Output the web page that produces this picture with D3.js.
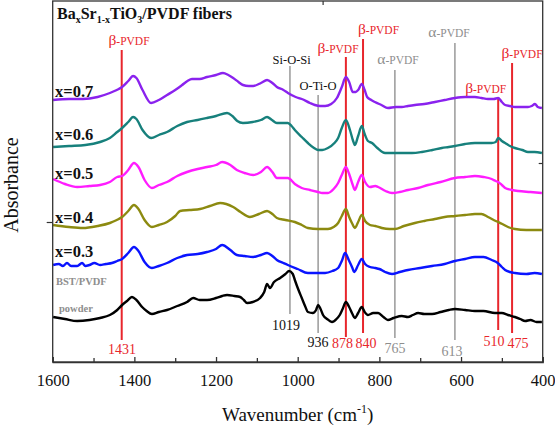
<!DOCTYPE html>
<html><head><meta charset="utf-8">
<script src="https://cdn.jsdelivr.net/npm/d3@7"></script>
<style>body{margin:0;background:#fff}svg{display:block}</style>
</head><body><div id="chart"></div>
<script>
// ---------- DATA ----------
const seriesNames = ["x=0.7", "x=0.6", "x=0.5", "x=0.4", "x=0.3", "powder"];
const spec07 = [[1599,262],[1560,263],[1526,263],[1490,265],[1460,269],[1443,272],[1430,275],[1415,281],[1403,286],[1395,284],[1380,272],[1359,259],[1340,262],[1320,267],[1300,272],[1283,277],[1270,281],[1259,283],[1240,283],[1222,285],[1200,287],[1183,289],[1170,287],[1158,284],[1145,280],[1134,277],[1120,276],[1109,276],[1090,279],[1075,282],[1062,279],[1051,275],[1035,272],[1024,269],[1005,265],[990,263],[970,259],[958,257],[945,256],[933,256],[918,258],[904,264],[892,275],[882,285],[874,280],[865,270],[858,270],[852,272],[843,278],[836,272],[830,265],[820,262],[811,260],[795,257],[779,254],[760,255],[745,255],[730,256],[713,257],[690,258],[664,260],[640,262],[615,264],[590,265],[566,265],[550,264],[534,263],[520,263],[509,264],[500,260],[492,257],[480,256],[468,255],[450,255],[436,255],[427,256],[419,258],[412,255],[402,254]];
const spec06 = [[1599,215],[1560,216],[1520,217],[1484,220],[1460,224],[1442,230],[1430,234],[1415,240],[1403,245],[1395,243],[1380,232],[1359,224],[1340,227],[1320,230],[1295,236],[1271,240],[1245,242],[1222,244],[1200,246],[1173,249],[1160,246],[1148,241],[1134,239],[1110,240],[1090,242],[1075,245],[1063,242],[1051,239],[1035,239],[1024,239],[1015,236],[1007,232],[990,225],[975,219],[960,214],[950,212],[940,212],[926,214],[910,219],[901,224],[892,234],[882,242],[872,232],[865,222],[860,217],[852,226],[843,236],[836,228],[828,221],[818,219],[805,214],[786,209],[765,209],[745,209],[720,209],[696,210],[670,212],[647,214],[630,215],[615,216],[590,218],[566,219],[545,219],[525,219],[515,220],[509,224],[500,221],[492,219],[480,216],[468,214],[450,212],[436,210],[420,210],[402,209]];
const spec05 = [[1599,183],[1570,178],[1540,175],[1510,176],[1484,177],[1460,180],[1442,185],[1430,186],[1415,192],[1401,199],[1390,195],[1375,182],[1357,174],[1340,177],[1320,180],[1295,186],[1271,190],[1245,193],[1222,195],[1200,197],[1185,200],[1165,197],[1149,192],[1130,189],[1109,187],[1090,190],[1075,195],[1062,190],[1051,184],[1035,184],[1024,184],[1007,178],[990,174],[970,172],[950,170],[940,169],[926,169],[912,173],[901,179],[892,187],[882,195],[874,188],[866,178],[860,172],[852,180],[843,187],[835,180],[823,175],[810,176],[803,175],[785,171],[769,169],[750,170],[730,172],[705,174],[681,177],[650,180],[615,184],[590,185],[566,186],[545,185],[525,183],[515,181],[509,180],[500,177],[492,174],[475,172],[460,171],[430,170],[402,169]];
const spec04 = [[1599,137],[1560,135],[1526,134],[1490,136],[1460,139],[1443,142],[1430,145],[1415,151],[1401,157],[1390,153],[1375,142],[1357,135],[1340,137],[1320,140],[1300,146],[1288,151],[1265,152],[1239,153],[1215,156],[1190,159],[1175,158],[1158,155],[1140,150],[1117,145],[1095,148],[1075,151],[1062,148],[1051,144],[1030,142],[1007,140],[990,137],[975,134],[950,133],[926,133],[912,135],[901,139],[892,146],[882,153],[874,145],[866,138],[860,134],[852,140],[843,147],[835,141],[823,137],[810,136],[794,134],[775,133],[762,133],[740,136],[713,139],[690,141],[664,143],[640,145],[615,146],[590,147],[566,148],[550,148],[534,145],[515,141],[499,138],[485,135],[468,133],[440,132],[402,132]];
const spec03 = [[1599,97],[1585,98],[1575,96],[1565,99],[1555,96],[1540,96],[1528,99],[1520,96],[1510,97],[1498,99],[1484,97],[1470,98],[1455,99],[1442,101],[1430,103],[1415,109],[1401,115],[1390,111],[1375,100],[1357,94],[1340,96],[1320,99],[1295,104],[1271,107],[1245,108],[1222,110],[1200,113],[1185,117],[1165,112],[1149,107],[1130,106],[1109,105],[1090,107],[1075,109],[1062,106],[1051,102],[1035,99],[1024,97],[1000,93],[975,89],[950,89],[933,89],[915,91],[901,94],[892,101],[884,109],[875,102],[866,94],[862,90],[852,97],[843,103],[835,98],[823,95],[810,94],[800,93],[786,90],[769,88],[750,90],[730,92],[700,94],[671,96],[640,98],[615,101],[590,103],[566,105],[545,105],[525,102],[510,99],[500,95],[492,92],[480,90],[468,89],[440,88],[420,89],[402,88]];
const specPowder = [[1599,45],[1570,43],[1540,41],[1510,42],[1484,44],[1460,47],[1442,52],[1430,57],[1418,61],[1406,65],[1395,62],[1381,55],[1370,51],[1357,48],[1340,50],[1320,52],[1295,56],[1271,60],[1256,64],[1240,62],[1222,62],[1200,64],[1185,66],[1173,67],[1155,66],[1141,65],[1132,62],[1124,59],[1110,60],[1092,64],[1082,70],[1075,78],[1068,74],[1058,80],[1043,84],[1030,88],[1021,91],[1012,88],[1007,82],[998,72],[990,64],[982,56],[975,50],[963,49],[955,52],[950,57],[944,53],[938,47],[928,43],[916,40],[905,43],[897,47],[890,53],[882,60],[874,55],[866,48],[860,44],[852,49],[843,55],[836,50],[828,47],[815,49],[803,49],[790,45],[779,42],[765,44],[745,46],[730,45],[718,47],[705,49],[690,48],[671,48],[650,50],[630,52],[615,53],[590,52],[566,51],[545,51],[517,49],[500,49],[485,47],[468,45],[455,43],[443,41],[430,42],[415,40],[402,40]];

const peakWavenumbers   = [1431, 1019, 950, 882, 840, 762, 615, 509, 475];
const peakNumberLabels  = ["1431", "1019", "936", "878", "840", "765", "613", "510", "475"];
const peakAssignments   = ["β-PVDF", "Si-O-Si", "O-Ti-O", "β-PVDF", "β-PVDF", "α-PVDF", "α-PVDF", "β-PVDF", "β-PVDF"];
const peakKinds         = ["beta", "other", "other", "beta", "beta", "alpha", "alpha", "beta", "beta"];
const peakLineTopAbs    = [312, 296, 267, 305, 323, 292, 319, 265, 299];
const peakLineBottomAbs = [22, 48, 29, 25, 29, 24, 22, 32, 29];

const xTicks = [1600, 1400, 1200, 1000, 800, 600, 400];
const xMinorTicks = [1500, 1300, 1100, 900, 700, 500];

// ---------- LAYOUT / STYLE ----------
const W = 555, H = 426;
const L = 52.7, R = 542.7, T = 1, B = 362;
const seriesColors = ["#8a22ee", "#17807c", "#ff1cff", "#8c8a10", "#0a14ff", "#000000"];
const RED = "#e8262c", GRAY = "#999999", GRAYTXT = "#8e8e8e";
const SERIF = "Liberation Serif, DejaVu Serif, serif";
const seriesLabelPos = [[55, 97], [55, 140], [55, 179], [55, 223], [55, 257]];
const topLabelPos = [[129, 45], [291.7, 64], [318, 90], [338, 53], [378.5, 34], [398, 64], [449, 37], [485.7, 92.5], [522, 58]];
const numLabelPos = [[122, 354], [286, 330], [318, 347], [342.5, 348], [366, 348], [395, 353], [452, 356], [494, 346], [518, 348]];

const svg = d3.select("#chart").append("svg").attr("width", W).attr("height", H)
  .attr("font-family", SERIF);
svg.append("rect").attr("width", W).attr("height", H).attr("fill", "#fff");

const x = d3.scaleLinear().domain([1600, 400]).range([L, R]);
const y = d3.scaleLinear().domain([0, 361]).range([B, T]);

// annotation lines
const kindColor = k => k === "beta" ? RED : GRAY;
peakWavenumbers.forEach((w, i) => {
  svg.append("line").attr("x1", x(w)).attr("x2", x(w))
    .attr("y1", y(peakLineTopAbs[i])).attr("y2", y(peakLineBottomAbs[i]))
    .attr("stroke", kindColor(peakKinds[i]))
    .attr("stroke-width", peakKinds[i] === "beta" ? 2 : 1.5);
});

// spectra
const allSpecs = [spec07, spec06, spec05, spec04, spec03, specPowder];
const line = d3.line().x(d => x(d[0])).y(d => y(d[1])).curve(d3.curveMonotoneX);
allSpecs.forEach((s, i) => {
  svg.append("path").datum(s).attr("d", line).attr("fill", "none")
    .attr("stroke", seriesColors[i]).attr("stroke-width", 2.4)
    .attr("stroke-linejoin", "round");
});

// top labels
peakAssignments.forEach((lab, i) => {
  const [px, py] = topLabelPos[i];
  const t = svg.append("text").attr("x", px).attr("y", py).attr("text-anchor", "middle");
  if (peakKinds[i] === "other") {
    t.attr("font-size", 12.5).attr("fill", "#111").text(lab);
  } else {
    const c = peakKinds[i] === "beta" ? RED : GRAYTXT;
    t.attr("fill", c);
    t.append("tspan").attr("font-size", 15.5).text(lab.slice(0, 1));
    t.append("tspan").attr("font-size", 11.5).text(lab.slice(1));
  }
});

// bottom number labels
peakNumberLabels.forEach((lab, i) => {
  const [px, py] = numLabelPos[i];
  const c = peakKinds[i] === "beta" ? RED : (peakKinds[i] === "alpha" ? GRAYTXT : "#111");
  svg.append("text").attr("x", px).attr("y", py).attr("text-anchor", "middle")
    .attr("font-size", 14).attr("fill", c).text(lab);
});

// frame
svg.append("rect").attr("x", L).attr("y", T).attr("width", R - L).attr("height", B - T)
  .attr("fill", "none").attr("stroke", "#333").attr("stroke-width", 1.3);

// x axis
const xAxis = d3.axisBottom(x).tickValues(xTicks).tickSize(-5).tickPadding(12)
  .tickFormat(d3.format("d"));
const gx = svg.append("g").attr("transform", `translate(0,${B})`).call(xAxis);
gx.attr("font-family", SERIF);
gx.select(".domain").attr("stroke", "#333").attr("stroke-width", 1.3);
gx.selectAll(".tick line").attr("stroke", "#333").attr("stroke-width", 1.3);
gx.selectAll(".tick text").attr("font-size", 16.5).attr("fill", "#111");
const gxm = svg.append("g").attr("transform", `translate(0,${B})`)
  .call(d3.axisBottom(x).tickValues(xMinorTicks).tickSize(-4).tickFormat(""));
gxm.select(".domain").remove();
gxm.selectAll(".tick line").attr("stroke", "#333").attr("stroke-width", 1.3);

// stray single ticks seen on the frame
const gyl = svg.append("g").attr("transform", `translate(${L},0)`)
  .call(d3.axisLeft(y).tickValues([140]).tickSize(6).tickFormat(""));
gyl.select(".domain").remove();
gyl.selectAll(".tick line").attr("stroke", "#333").attr("stroke-width", 1.2);
const gyr = svg.append("g").attr("transform", `translate(${R},0)`)
  .call(d3.axisRight(y).tickValues([199]).tickSize(-4).tickFormat(""));
gyr.select(".domain").remove();
gyr.selectAll(".tick line").attr("stroke", "#333").attr("stroke-width", 1.2);
const gxt = svg.append("g").attr("transform", `translate(0,${T})`)
  .call(d3.axisTop(x).tickValues([939]).tickSize(-4).tickFormat(""));
gxt.select(".domain").remove();
gxt.selectAll(".tick line").attr("stroke", "#333").attr("stroke-width", 1.2);

// axis titles
const xt = svg.append("text").attr("x", (L + R) / 2).attr("y", 421).attr("text-anchor", "middle")
  .attr("font-size", 19).attr("fill", "#111");
xt.append("tspan").text("Wavenumber (cm");
xt.append("tspan").attr("font-size", 12).attr("dy", -8).text("-1");
xt.append("tspan").attr("dy", 8).text(")");
svg.append("text").attr("transform", "translate(18,185) rotate(-90)").attr("text-anchor", "middle")
  .attr("font-size", 20).attr("fill", "#111").text("Absorbance");

// title
const tt = svg.append("text").attr("x", 57).attr("y", 19).attr("font-size", 16)
  .attr("font-weight", "bold").attr("fill", "#111");
[["Ba", 0], ["x", 1], ["Sr", 0], ["1-x", 1], ["TiO", 0], ["3", 1], ["/PVDF fibers", 0]].forEach(([s, sub], i, arr) => {
  const prevSub = i > 0 ? arr[i - 1][1] : 0;
  const dy = (sub ? 4 : 0) - (prevSub ? 4 : 0);
  tt.append("tspan").attr("font-size", sub ? 10 : 16).attr("dy", dy).text(s);
});

// series labels
seriesNames.slice(0, 5).forEach((n, i) => {
  svg.append("text").attr("x", seriesLabelPos[i][0]).attr("y", seriesLabelPos[i][1])
    .attr("font-size", 16.5).attr("font-weight", "bold").attr("fill", "#111").text(n);
});
svg.append("text").attr("x", 56).attr("y", 285).attr("font-size", 10.5).attr("font-weight", "bold")
  .attr("fill", GRAYTXT).text("BST/PVDF");
svg.append("text").attr("x", 59).attr("y", 312).attr("font-size", 10.5).attr("font-weight", "bold")
  .attr("fill", GRAYTXT).text(seriesNames[5]);
</script></body></html>
